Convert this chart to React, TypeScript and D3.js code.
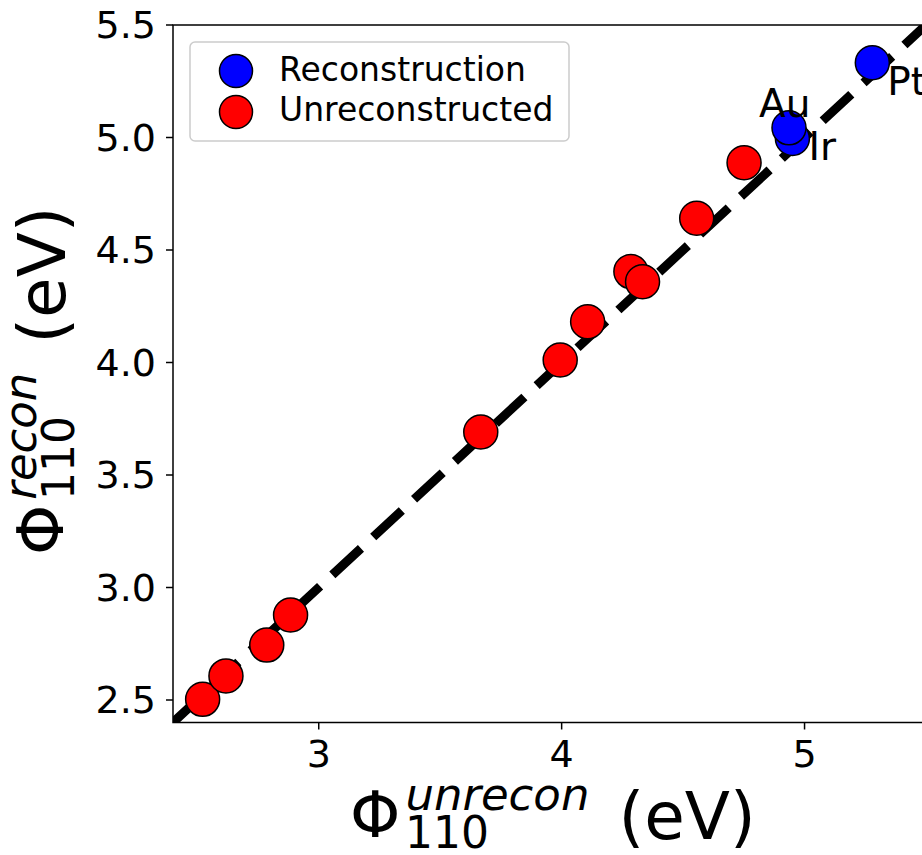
import React from 'react';
import * as d3 from 'd3';

// values
const reconNames = ['Ir', 'Au', 'Pt'];
const reconX = [4.95, 4.936, 5.279];
const reconY = [4.996, 5.043, 5.332];

const unreconX = [2.522, 2.618, 2.786, 2.884, 3.667, 3.994, 4.107, 4.285, 4.333, 4.556, 4.751];
const unreconY = [2.503, 2.607, 2.744, 2.878, 3.691, 4.011, 4.181, 4.404, 4.359, 4.641, 4.888];

const xTicks = [3, 4, 5];
const yTicks = [2.5, 3.0, 3.5, 4.0, 4.5, 5.0, 5.5];
const domain = [2.4, 5.5];

const legendItems = [
  { label: 'Reconstruction', color: '#0000ff' },
  { label: 'Unreconstructed', color: '#ff0000' },
];

const nameOffsets: Record<string, [number, number]> = {
  Ir: [16, 22],
  Au: [-30, -11],
  Pt: [15, 32],
};

const W = 922;
const H = 855;
const font = "'DejaVu Sans', sans-serif";

const AxisLabel = ({ sup }: { sup: string }) => (
  <g>
    <text fontFamily={font} fontSize={64} x={0} y={0}>
      Φ
      <tspan fontSize={45} fontStyle="italic" dx={5} dy={-27}>{sup}</tspan>
      <tspan fontSize={66} dx={8} dy={29}>{' (eV)'}</tspan>
    </text>
    <text fontFamily={font} fontSize={44} x={55} y={11}>110</text>
  </g>
);

const App = () => {
  const x = d3.scaleLinear().domain(domain).range([173, 926]);
  const y = d3.scaleLinear().domain(domain).range([722.5, 25]);
  const [x0, x1] = x.range();
  const [y0, y1] = y.range();

  const diag = d3.line<number>().x((d) => x(d)).y((d) => y(d))(domain) || '';
  const r = 17;

  return (
    <div style={{ position: 'absolute', left: 0, top: 0 }}>
      <svg width={W} height={H} style={{ display: 'block', background: '#fff' }}>
        <defs>
          <clipPath id="plot">
            <rect x={x0} y={y1} width={x1 - x0} height={y0 - y1} />
          </clipPath>
        </defs>

        <path
          d={diag}
          clipPath="url(#plot)"
          stroke="#000"
          strokeWidth={9}
          strokeDasharray="39 16.7"
          strokeDashoffset={5.6}
          fill="none"
        />

        {reconX.map((v, i) => (
          <circle key={'b' + i} cx={x(v)} cy={y(reconY[i])} r={r} fill="#0000ff" stroke="#000" strokeWidth={1.5} />
        ))}
        {unreconX.map((v, i) => (
          <circle key={'r' + i} cx={x(v)} cy={y(unreconY[i])} r={r} fill="#ff0000" stroke="#000" strokeWidth={1.5} />
        ))}
        {reconNames.map((n, i) => (
          <text
            key={n}
            x={x(reconX[i]) + nameOffsets[n][0]}
            y={y(reconY[i]) + nameOffsets[n][1]}
            fontFamily={font}
            fontSize={39}
          >
            {n}
          </text>
        ))}

        {/* spines */}
        <rect x={x0} y={y1} width={x1 - x0} height={y0 - y1} fill="none" stroke="#000" strokeWidth={1.5} />

        {/* ticks */}
        {xTicks.map((t) => (
          <g key={'x' + t}>
            <line x1={x(t)} x2={x(t)} y1={y0} y2={y0 + 7} stroke="#000" strokeWidth={1.5} />
            <text x={x(t)} y={767} textAnchor="middle" fontFamily={font} fontSize={38}>
              {t}
            </text>
          </g>
        ))}
        {yTicks.map((t) => (
          <g key={'y' + t}>
            <line x1={x0} x2={x0 - 7} y1={y(t)} y2={y(t)} stroke="#000" strokeWidth={1.5} />
            <text x={156} y={y(t) + 13} textAnchor="end" fontFamily={font} fontSize={38}>
              {d3.format('.1f')(t)}
            </text>
          </g>
        ))}

        {/* legend */}
        <rect x={190} y={42} width={379} height={99} rx={5} fill="#fff" fillOpacity={0.8} stroke="#cccccc" strokeWidth={1.5} />
        {legendItems.map((it, i) => (
          <g key={it.label}>
            <circle cx={236} cy={71 + i * 41} r={16.5} fill={it.color} stroke="#000" strokeWidth={1.5} />
            <text x={279} y={81 + i * 40} fontFamily={font} fontSize={33}>
              {it.label}
            </text>
          </g>
        ))}

        {/* axis labels */}
        <g transform="translate(350,837)">
          <AxisLabel sup="unrecon" />
        </g>
        <g transform="translate(63,555) rotate(-90)">
          <AxisLabel sup="recon" />
        </g>
      </svg>
    </div>
  );
};

export default App;
